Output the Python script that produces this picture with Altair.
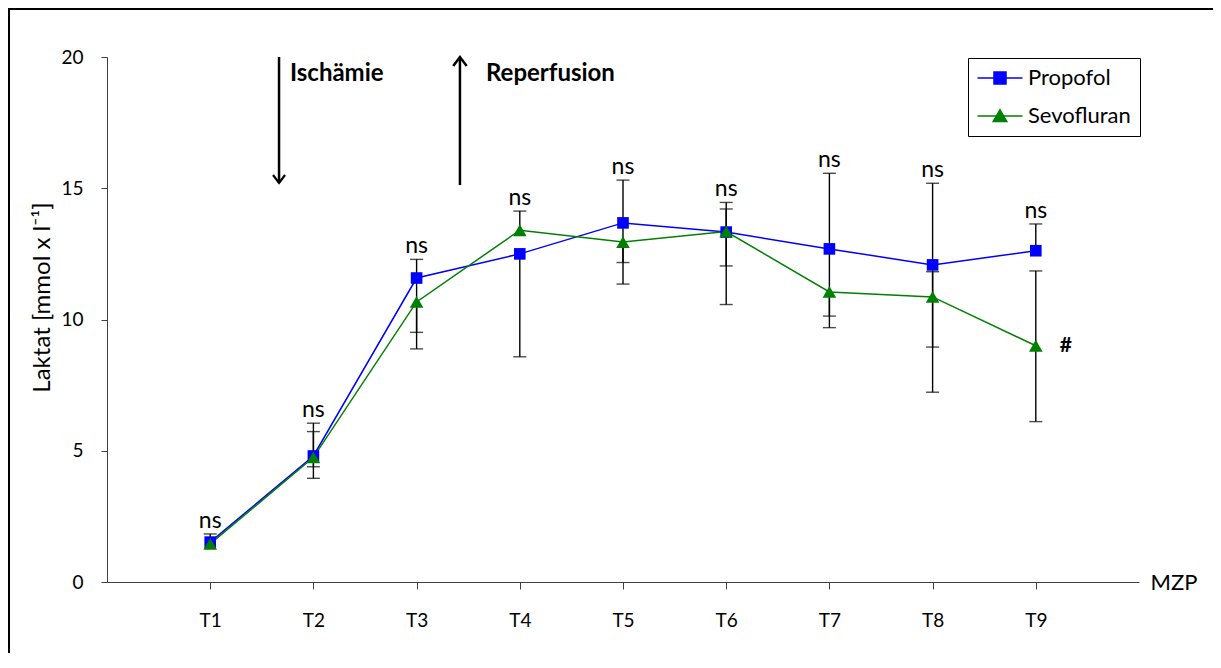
import altair as alt
import pandas as pd

# ---------------- data ----------------
timepoints = ["T1", "T2", "T3", "T4", "T5", "T6", "T7", "T8", "T9"]
series_names = ["Propofol", "Sevofluran"]

propofol = [1.52, 4.80, 11.58, 12.50, 13.68, 13.33, 12.69, 12.08, 12.62]
sevofluran = [1.45, 4.75, 10.67, 13.40, 12.95, 13.35, 11.05, 10.86, 9.00]

# error-bar ends as visible in the figure (None = no cap drawn)
propofol_hi = [1.83, 6.05, 12.29, None, 15.31, 14.46, 15.57, 15.19, 13.64]
propofol_lo = [None, 3.95, 9.51, 8.58, 12.17, 12.04, 9.69, 8.95, None]
sevofluran_hi = [None, 5.73, None, 14.13, None, 14.21, None, 11.82, 11.85]
sevofluran_lo = [None, 4.39, 8.88, None, 11.35, 10.57, 10.13, 7.23, 6.11]

sig_labels = ["ns", "ns", "ns", "ns", "ns", "ns", "ns", "ns", "ns"]
hash_label = "#"
hash_time = 9

# event annotations (x in category units, y in mmol/l)
event_labels = ["Ischämie", "Reperfusion"]
event_x = [1.667, 3.42]
event_from = [20.0, 15.12]
event_to = [15.2, 20.0]
event_label_x = [1.773, 3.672]
event_label_y = [19.35, 19.35]

y_ticks = [0, 5, 10, 15, 20]

# ---------------- tables ----------------
rows, bars, caps = [], [], []
vals = {"Propofol": (propofol, propofol_hi, propofol_lo),
        "Sevofluran": (sevofluran, sevofluran_hi, sevofluran_lo)}
for s in series_names:
    v, hi, lo = vals[s]
    for i, t in enumerate(timepoints):
        rows.append({"t": i + 1, "label": t, "series": s, "value": v[i]})
        ends = [e for e in (hi[i], lo[i]) if e is not None]
        if ends:
            bars.append({"t": i + 1, "series": s,
                         "lo": min(ends + [v[i]]), "hi": max(ends + [v[i]])})
        for e in ends:
            caps.append({"t": i + 1, "series": s, "cap": e})

main_df = pd.DataFrame(rows)
bars_df = pd.DataFrame(bars)
caps_df = pd.DataFrame(caps)

ns_rows = []
for i, t in enumerate(timepoints):
    cand = [propofol[i], sevofluran[i]] + [c["cap"] for c in caps if c["t"] == i + 1]
    ns_rows.append({"t": i + 1, "top": max(cand), "text": sig_labels[i]})
ns_df = pd.DataFrame(ns_rows)

hash_df = pd.DataFrame([{"t": hash_time, "value": sevofluran[hash_time - 1], "text": hash_label}])

ev_df = pd.DataFrame({"label": event_labels, "x": event_x, "y0": event_from,
                      "y1": event_to, "lx": event_label_x, "ly": event_label_y})

W, H = 1032, 525
FONT = "Lato"

xscale = alt.Scale(domain=[0, 10], nice=False, zero=False)
yscale = alt.Scale(domain=[0, 20], nice=False)

X = alt.X("t:Q", scale=xscale,
          axis=alt.Axis(values=list(range(1, 10)), labelExpr="'T' + datum.value",
                        tickSize=7, labelPadding=22, title="MZP",
                        titleX=W + 11, titleY=0, titleAlign="left",
                        titleBaseline="middle", titleFontWeight="normal",
                        titleFontSize=22, titleFont=FONT, titleColor="black"))
Y_AXIS = alt.Axis(values=y_ticks, tickSize=6, labelPadding=18,
                  title="Laktat [mmol x l⁻¹]", titleX=-65, titleY=240,
                  titleAlign="center", titleBaseline="middle", titleAngle=270,
                  titleFontWeight="normal", titleFontSize=24, titleFont=FONT,
                  titleColor="black")

colors = {"Propofol": "#0000FF", "Sevofluran": "#008000"}
shapes = {"Propofol": "square", "Sevofluran": "triangle-up"}
sizes = {"Propofol": 135, "Sevofluran": 185}

base = alt.Chart(main_df)

border = alt.Chart(main_df).mark_rect(fill=None, stroke="black", strokeWidth=2).encode(
    x=alt.value(-98), x2=alt.value(W + 300), y=alt.value(-48.5), y2=alt.value(H + 300))

err_rules = alt.Chart(bars_df).mark_rule(color="black", strokeWidth=1.4).encode(
    x=X, y=alt.Y("lo:Q", scale=yscale, axis=Y_AXIS), y2="hi:Q")
err_caps = alt.Chart(caps_df).mark_tick(color="black", orient="horizontal",
                                         size=13, thickness=1.4).encode(
    x="t:Q", y="cap:Q")

layers = [border, err_rules, err_caps]
for s in series_names:
    d = base.transform_filter(alt.datum.series == s)
    layers.append(d.mark_line(color=colors[s], strokeWidth=1.5).encode(x="t:Q", y="value:Q"))
for s in series_names:
    d = base.transform_filter(alt.datum.series == s)
    layers.append(d.mark_point(shape=shapes[s], filled=True, size=sizes[s],
                               color=colors[s], opacity=1).encode(x="t:Q", y="value:Q"))

ns_text = alt.Chart(ns_df).mark_text(baseline="bottom", dy=-1, fontSize=23, font=FONT,
                                     color="black").encode(x="t:Q", y="top:Q", text="text:N")
hash_text = alt.Chart(hash_df).mark_text(align="center", baseline="middle", dx=30,
                                         fontSize=21, font=FONT, fontWeight="bold",
                                         color="black").encode(x="t:Q", y="value:Q", text="text:N")

ev = alt.Chart(ev_df)
ev_rules = ev.mark_rule(color="black", strokeWidth=2.5).encode(x="x:Q", y="y0:Q", y2="y1:Q")
down_head = ev.transform_filter(alt.datum.y1 < alt.datum.y0).mark_point(
    shape="M-0.75,-1L0,0L0.75,-1", filled=False, stroke="black", strokeWidth=2.2,
    size=256, opacity=1).encode(x="x:Q", y="y1:Q")
up_head = ev.transform_filter(alt.datum.y1 > alt.datum.y0).mark_point(
    shape="M-0.75,1L0,0L0.75,1", filled=False, stroke="black", strokeWidth=2.5,
    size=324, opacity=1).encode(x="x:Q", y="y1:Q")
ev_text = ev.mark_text(align="left", baseline="middle", fontSize=24, font=FONT,
                       fontWeight="bold", color="black").encode(x="lx:Q", y="ly:Q", text="label:N")

leg_paths = ["M-2.25,0H2.25M-0.6,-0.6H0.6V0.6H-0.6Z",
             "M-2.25,0H2.25M0,-0.62L0.68,0.56H-0.68Z"]
leg_colors = [colors[s] for s in series_names]
legend_layer = base.transform_filter("false").mark_point(filled=True, opacity=1).encode(
    x="t:Q", y="value:Q",
    fill=alt.Fill("series:N", scale=alt.Scale(domain=series_names, range=leg_colors),
                  legend=alt.Legend(title=None)),
    stroke=alt.Stroke("series:N", scale=alt.Scale(domain=series_names, range=leg_colors),
                      legend=alt.Legend(title=None)),
    shape=alt.Shape("series:N", scale=alt.Scale(domain=series_names, range=leg_paths),
                    legend=alt.Legend(title=None)),
)

layers += [ns_text, hash_text, ev_rules, down_head, up_head, ev_text, legend_layer]

chart = alt.layer(*layers).properties(
    width=W, height=H,
    padding={"left": 99, "top": 49, "right": 74, "bottom": 71},
    autosize=alt.AutoSizeParams(type="none"),
).configure_view(stroke=None).configure_axis(
    grid=False, domainColor="#404040", tickColor="#404040", domainWidth=1, tickWidth=1,
    labelFont=FONT, labelFontSize=19, labelColor="black",
).configure_legend(
    orient="none", legendX=861, legendY=1, strokeColor="black", padding=9,
    symbolSize=400, symbolStrokeWidth=1.5, labelFont=FONT, labelFontSize=22,
    labelColor="black", rowPadding=16, symbolOffset=12, labelOffset=17,
    fillColor="white",
)

chart.save("out.html", embed_options={"renderer": "svg", "actions": False})
